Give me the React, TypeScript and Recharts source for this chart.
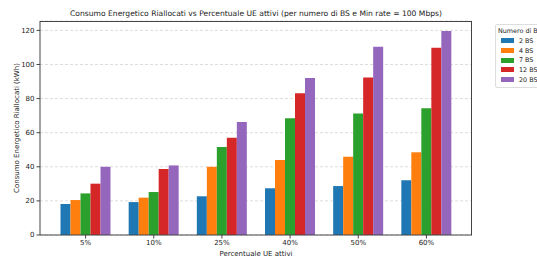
import React from 'react';
import { BarChart, Bar, XAxis, YAxis, CartesianGrid } from 'recharts';

const categories = ['5%', '10%', '25%', '40%', '50%', '60%'];
const bs2 = [18.2, 19.3, 22.7, 27.4, 28.7, 32.1];
const bs4 = [20.5, 21.9, 40.0, 44.0, 45.9, 48.5];
const bs7 = [24.4, 25.2, 51.6, 68.4, 71.3, 74.3];
const bs12 = [30.1, 38.7, 57.0, 83.2, 92.4, 109.8];
const bs20 = [40.0, 40.8, 66.2, 92.0, 110.4, 119.6];
const yTicks = [0, 20, 40, 60, 80, 100, 120];

const series = [
  { key: 'bs2', name: '2 BS', color: '#1f77b4', values: bs2 },
  { key: 'bs4', name: '4 BS', color: '#ff7f0e', values: bs4 },
  { key: 'bs7', name: '7 BS', color: '#2ca02c', values: bs7 },
  { key: 'bs12', name: '12 BS', color: '#d62728', values: bs12 },
  { key: 'bs20', name: '20 BS', color: '#9467bd', values: bs20 },
];

const data = categories.map((c, i) => {
  const row: Record<string, string | number> = { cat: c };
  series.forEach(s => { row[s.key] = s.values[i]; });
  return row;
});

const FONT = '"DejaVu Sans", sans-serif';
const AXIS = '#444';

// matplotlib-style legend, placed outside the axes on the right
const LegendBox = () => (
  <div style={{
    position: 'absolute', left: 495, top: 24,
    background: 'white', border: '1px solid #ddd', borderRadius: 2, padding: '2px 4px 3px 2px',
    fontFamily: FONT, fontSize: 6.4, color: '#222', whiteSpace: 'nowrap', width: 60,
  }}>
    <div style={{ marginBottom: 1 }}>Numero di BS</div>
    {series.map(s => (
      <div key={s.key} style={{ display: 'flex', alignItems: 'center', height: 9.7 }}>
        <span style={{ display: 'inline-block', width: 13, height: 5, background: s.color, marginLeft: 3, marginRight: 5 }} />
        <span>{s.name}</span>
      </div>
    ))}
  </div>
);

export default function App() {
  return (
    <div style={{ position: 'fixed', left: 0, top: 0, width: 537, height: 257, overflow: 'hidden', background: 'white' }}>
      <div style={{
        position: 'absolute', left: 40, width: 432, top: 9, textAlign: 'center',
        fontFamily: FONT, fontSize: 7.6, color: '#222', whiteSpace: 'nowrap', zIndex: 1,
      }}>
        Consumo Energetico Riallocati vs Percentuale UE attivi (per numero di BS e Min rate = 100 Mbps)
      </div>
      <BarChart
        width={537}
        height={257}
        data={data}
        margin={{ top: 21, right: 65, left: 0, bottom: 0 }}
        barCategoryGap={9}
        barGap={0}
      >
        <CartesianGrid vertical={false} stroke="#ddd" strokeDasharray="3 2" />
        <XAxis
          dataKey="cat"
          height={22}
          padding={{ left: 11.5, right: 11.5 }}
          stroke={AXIS}
          tickSize={3.5}
          tick={{ fontSize: 7, fill: '#222', fontFamily: FONT }}
          label={{ value: 'Percentuale UE attivi', position: 'insideBottom', offset: 1, fontSize: 7, fill: '#222', fontFamily: FONT }}
        />
        <YAxis
          width={40}
          domain={[0, 125.5]}
          ticks={yTicks}
          stroke={AXIS}
          tickSize={3.5}
          tick={{ fontSize: 7, fill: '#222', fontFamily: FONT }}
          label={{ value: 'Consumo Energetico Riallocati (kWh)', angle: -90, position: 'insideLeft', offset: 17, fontSize: 7, fill: '#222', fontFamily: FONT, style: { textAnchor: 'middle' } }}
        />
        {series.map(s => (
          <Bar key={s.key} dataKey={s.key} name={s.name} fill={s.color} isAnimationActive={false} />
        ))}
      </BarChart>
      {/* axes frame (top and right spines) */}
      <div style={{ position: 'absolute', left: 40, top: 21, width: 432, height: 214, borderTop: `1px solid ${AXIS}`, borderRight: `1px solid ${AXIS}`, boxSizing: 'border-box', pointerEvents: 'none' }} />
      <LegendBox />
    </div>
  );
}
